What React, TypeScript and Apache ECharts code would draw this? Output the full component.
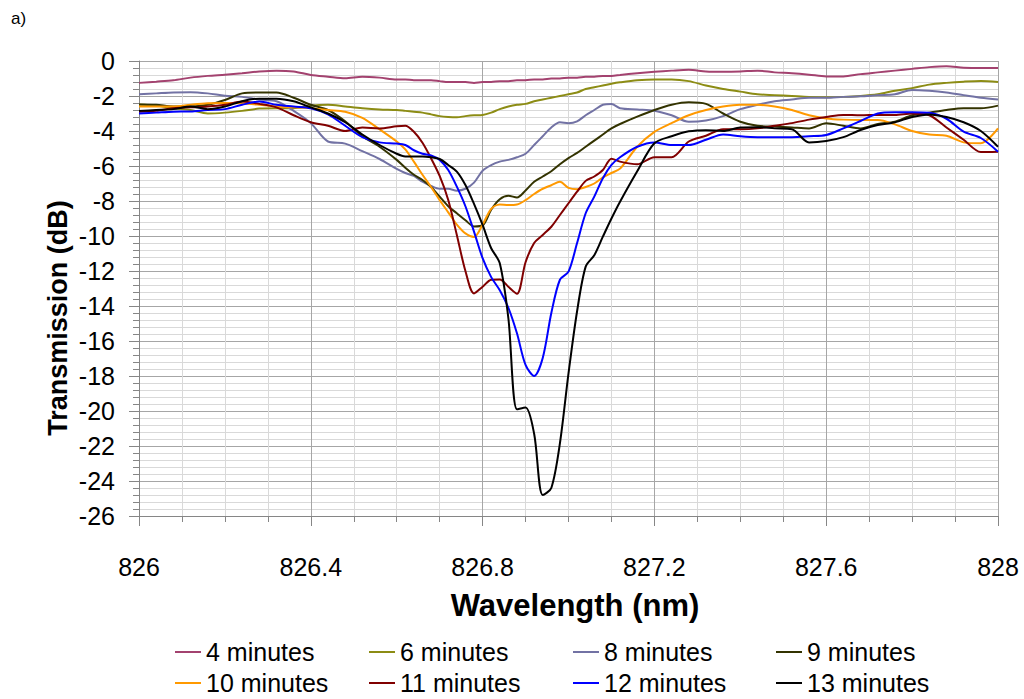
import React, { useEffect, useRef } from "react";
import * as echarts from "echarts";

const wavelengths = [
  826.0, 826.04, 826.08, 826.12, 826.16, 826.2, 826.24, 826.28, 826.32, 826.36, 826.4, 826.44, 826.48, 826.52, 826.56,
  826.6, 826.62, 826.64, 826.66, 826.68, 826.7, 826.72, 826.74, 826.76, 826.78, 826.8, 826.82, 826.84, 826.86, 826.88,
  826.9, 826.92, 826.94, 826.96, 826.98, 827.0, 827.02, 827.04, 827.06, 827.08, 827.1, 827.12,
  827.16, 827.2, 827.24, 827.28, 827.32, 827.36, 827.4, 827.44, 827.48, 827.52, 827.56, 827.6, 827.64, 827.68, 827.72,
  827.76, 827.8, 827.84, 827.88, 827.92, 827.96, 828.0,
];

const min4 = [
  -1.25, -1.18, -1.1, -0.95, -0.85, -0.78, -0.7, -0.6, -0.55, -0.6, -0.8, -0.9, -0.99, -0.9, -0.95,
  -1.05, -1.05, -1.1, -1.1, -1.1, -1.15, -1.2, -1.2, -1.2, -1.25, -1.2, -1.2, -1.15, -1.15, -1.1,
  -1.1, -1.05, -1.05, -1.0, -1.0, -0.95, -0.95, -0.9, -0.9, -0.85, -0.85, -0.8,
  -0.7, -0.62, -0.55, -0.5, -0.6, -0.62, -0.6, -0.55, -0.65, -0.7, -0.78, -0.88, -0.88, -0.75, -0.65,
  -0.55, -0.45, -0.35, -0.3, -0.38, -0.4, -0.4,
];

const min6 = [
  -2.48, -2.55, -2.7, -2.8, -3.0, -2.95, -2.85, -2.72, -2.7, -2.7, -2.55, -2.5, -2.6, -2.7, -2.77,
  -2.8, -2.85, -2.9, -2.95, -3.05, -3.15, -3.2, -3.22, -3.15, -3.1, -3.08, -2.95, -2.75, -2.6, -2.5,
  -2.45, -2.3, -2.2, -2.1, -2.0, -1.9, -1.8, -1.6, -1.5, -1.4, -1.3, -1.22,
  -1.1, -1.05, -1.05, -1.15, -1.4, -1.6, -1.75, -1.9, -1.95, -2.0, -2.05, -2.07, -2.05, -2.0, -1.9,
  -1.7, -1.55, -1.35, -1.25, -1.18, -1.14, -1.2,
];

const min8 = [
  -1.9, -1.85, -1.8, -1.78, -1.85, -1.98, -2.05, -2.2, -2.3, -2.85, -3.55, -4.6, -4.72, -5.15, -5.6,
  -6.17, -6.4, -6.57, -6.9, -7.14, -7.3, -7.3, -7.41, -7.3, -6.95, -6.27, -5.95, -5.75, -5.65, -5.5,
  -5.3, -4.8, -4.3, -3.8, -3.5, -3.55, -3.45, -3.1, -2.8, -2.5, -2.45, -2.7,
  -2.77, -2.84, -3.1, -3.47, -3.4, -3.15, -2.75, -2.5, -2.3, -2.2, -2.1, -2.1, -2.05, -2.02, -1.95,
  -1.9, -1.65, -1.7, -1.8, -1.95, -2.1, -2.2,
];

const min9 = [
  -2.48, -2.5, -2.6, -2.6, -2.5, -2.23, -1.85, -1.8, -1.8, -2.1, -2.5, -2.8, -3.45, -4.3, -4.9,
  -5.65, -6.1, -6.5, -6.8, -7.2, -7.75, -8.3, -8.7, -9.1, -9.45, -9.4, -8.5, -7.9, -7.7, -7.8,
  -7.4, -6.9, -6.6, -6.3, -5.9, -5.55, -5.25, -4.9, -4.55, -4.2, -3.85, -3.6,
  -3.18, -2.8, -2.5, -2.36, -2.45, -3.0, -3.47, -3.7, -3.75, -3.8, -3.85, -3.56, -3.7, -3.85, -3.6,
  -3.47, -3.1, -2.95, -2.8, -2.7, -2.7, -2.55,
];

const min10 = [
  -2.6, -2.6, -2.6, -2.5, -2.42, -2.4, -2.42, -2.5, -2.6, -2.65, -2.7, -2.8, -2.9, -3.25, -3.9,
  -4.6, -5.05, -5.75, -6.5, -7.2, -7.95, -8.65, -9.35, -9.85, -10.05, -9.35, -8.45, -8.2, -8.23, -8.2,
  -7.95, -7.6, -7.3, -7.1, -6.9, -7.25, -7.33, -7.2, -7.0, -6.65, -6.4, -6.15,
  -4.9, -4.05, -3.55, -3.1, -2.8, -2.6, -2.5, -2.5, -2.6, -2.8, -3.1, -3.28, -3.35, -3.37, -3.37,
  -3.62, -4.0, -4.2, -4.27, -4.65, -4.7, -3.85,
];

const min11 = [
  -2.9, -2.85, -2.7, -2.65, -2.6, -2.5, -2.32, -2.45, -2.65, -3.1, -3.5, -3.7, -4.0, -3.8, -3.85,
  -3.73, -3.7, -4.04, -4.67, -5.56, -6.57, -7.94, -9.94, -12.0, -13.28, -12.9, -12.5, -12.48, -12.9, -13.3,
  -11.5, -10.4, -9.94, -9.47, -8.8, -8.13, -7.47, -6.85, -6.6, -6.23, -5.58, -5.75,
  -5.9, -5.5, -5.5, -4.6, -4.27, -3.9, -3.9, -3.85, -3.7, -3.55, -3.35, -3.2, -3.08, -3.1, -3.08,
  -3.08, -3.0, -3.1, -3.8, -4.5, -5.2, -5.18,
];

const min12 = [
  -3.0, -2.95, -2.9, -2.88, -2.8, -2.75, -2.5, -2.32, -2.5, -2.6, -2.7, -3.05, -3.7, -4.35, -4.65,
  -4.72, -4.8, -5.1, -5.3, -5.4, -5.65, -6.23, -7.18, -8.3, -9.75, -11.27, -12.35, -13.1, -14.1, -15.56,
  -17.37, -18.0, -16.97, -14.4, -12.5, -12.04, -10.4, -8.7, -7.75, -6.7, -5.94, -5.5,
  -4.9, -4.65, -4.8, -4.8, -4.5, -4.2, -4.3, -4.35, -4.35, -4.35, -4.3, -4.23, -3.85, -3.43, -3.0,
  -2.93, -2.93, -2.96, -3.3, -4.04, -4.4, -5.18,
];

const min13 = [
  -2.85, -2.8, -2.75, -2.6, -2.75, -2.6, -2.3, -2.15, -2.15, -2.3, -2.65, -3.0, -3.5, -4.2, -4.8,
  -5.3, -5.45, -5.45, -5.45, -5.5, -5.6, -5.94, -6.32, -7.09, -8.17, -9.37, -10.7, -11.56, -14.7, -19.9,
  -19.8, -21.3, -24.8, -24.4, -21.85, -17.85, -14.3, -11.75, -11.1, -10.04, -9.0, -8.04,
  -6.3, -4.7, -4.3, -4.02, -3.95, -4.0, -3.8, -3.78, -3.85, -3.9, -4.65, -4.57, -4.35, -3.94, -3.66,
  -3.5, -3.2, -3.05, -3.2, -3.5, -4.0, -4.9,
];

const seriesNames = [
  "4 minutes", "6 minutes", "8 minutes", "9 minutes",
  "10 minutes", "11 minutes", "12 minutes", "13 minutes",
];
const seriesValues = [min4, min6, min8, min9, min10, min11, min12, min13];
const seriesColors = [
  "#A3426F", "#8C8C14", "#7272A4", "#333300",
  "#FF9900", "#800000", "#0000FF", "#000000",
];

const xTicks = [826, 826.4, 826.8, 827.2, 827.6, 828];

const FONT = "'Liberation Sans', Arial, sans-serif";

export default function App() {
  const ref = useRef<HTMLDivElement>(null);

  useEffect(() => {
    document.body.style.margin = "0";
    if (!ref.current) return;
    const chart = echarts.init(ref.current, null, { renderer: "svg" });

    const legendLefts = [175, 369, 573, 776];
    const legendTops = [637, 668];

    const option: any = {
      animation: false,
      backgroundColor: "#ffffff",
      grid: { left: 139, right: 26, top: 61, bottom: 183, containLabel: false },
      xAxis: {
        type: "value",
        min: 826,
        max: 828,
        interval: 0.4,
        axisLine: { show: true, onZero: false, lineStyle: { color: "#868686", width: 1 } },
        axisTick: { show: true, length: 10, inside: false, lineStyle: { color: "#868686" } },
        minorTick: { show: true, splitNumber: 4, length: 6, lineStyle: { color: "#868686" } },
        splitLine: { show: true, lineStyle: { color: "#a6a6a6", width: 1 } },
        minorSplitLine: { show: true, lineStyle: { color: "#d9d9d9", width: 1 } },
        axisLabel: {
          show: true,
          margin: 38,
          fontSize: 25,
          fontFamily: FONT,
          color: "#000",
          formatter: (v: number) => {
            const t = xTicks.find((x) => Math.abs(x - v) < 1e-6);
            return t === undefined ? "" : String(t);
          },
        },
      },
      yAxis: {
        type: "value",
        min: -26,
        max: 0,
        interval: 2,
        axisLine: { show: true, lineStyle: { color: "#868686", width: 1 } },
        axisTick: { show: true, length: 10, lineStyle: { color: "#868686" } },
        minorTick: { show: true, splitNumber: 5, length: 6, lineStyle: { color: "#868686" } },
        splitLine: { show: true, lineStyle: { color: "#a6a6a6", width: 1 } },
        minorSplitLine: { show: true, lineStyle: { color: "#d9d9d9", width: 1 } },
        axisLabel: { margin: 24, fontSize: 25, fontFamily: FONT, color: "#000" },
      },
      legend: seriesNames.map((name, i) => ({
        data: [name],
        left: legendLefts[i % 4],
        top: legendTops[Math.floor(i / 4)],
        icon: "rect",
        itemWidth: 26,
        itemHeight: 2,
        itemGap: 0,
        padding: 0,
        selectedMode: false,
        textStyle: { fontSize: 25, fontFamily: FONT, color: "#000", lineHeight: 30 },
      })),
      graphic: [
        {
          type: "text",
          left: 11,
          top: 10,
          style: { text: "a)", fontSize: 17, fontFamily: FONT, fill: "#000" },
        },
        {
          type: "text",
          x: 58,
          y: 318,
          rotation: Math.PI / 2,
          style: {
            text: "Transmission (dB)",
            fontSize: 27,
            fontWeight: "bold",
            fontFamily: FONT,
            fill: "#000",
            align: "center",
            verticalAlign: "middle",
          },
        },
        {
          type: "text",
          x: 575,
          y: 605,
          style: {
            text: "Wavelength (nm)",
            fontSize: 31,
            fontWeight: "bold",
            fontFamily: FONT,
            fill: "#000",
            align: "center",
            verticalAlign: "middle",
          },
        },
      ],
      series: seriesNames.map((name, i) => ({
        name,
        type: "line",
        data: wavelengths.map((w, j) => [w, seriesValues[i][j]]),
        showSymbol: false,
        symbol: "none",
        smooth: 0.3,
        color: seriesColors[i],
        lineStyle: { color: seriesColors[i], width: 2 },
        emphasis: { disabled: true },
        z: 2 + i,
      })),
    };

    chart.setOption(option);
    return () => {
      chart.dispose();
    };
  }, []);

  return <div ref={ref} style={{ width: 1024, height: 699 }} />;
}
